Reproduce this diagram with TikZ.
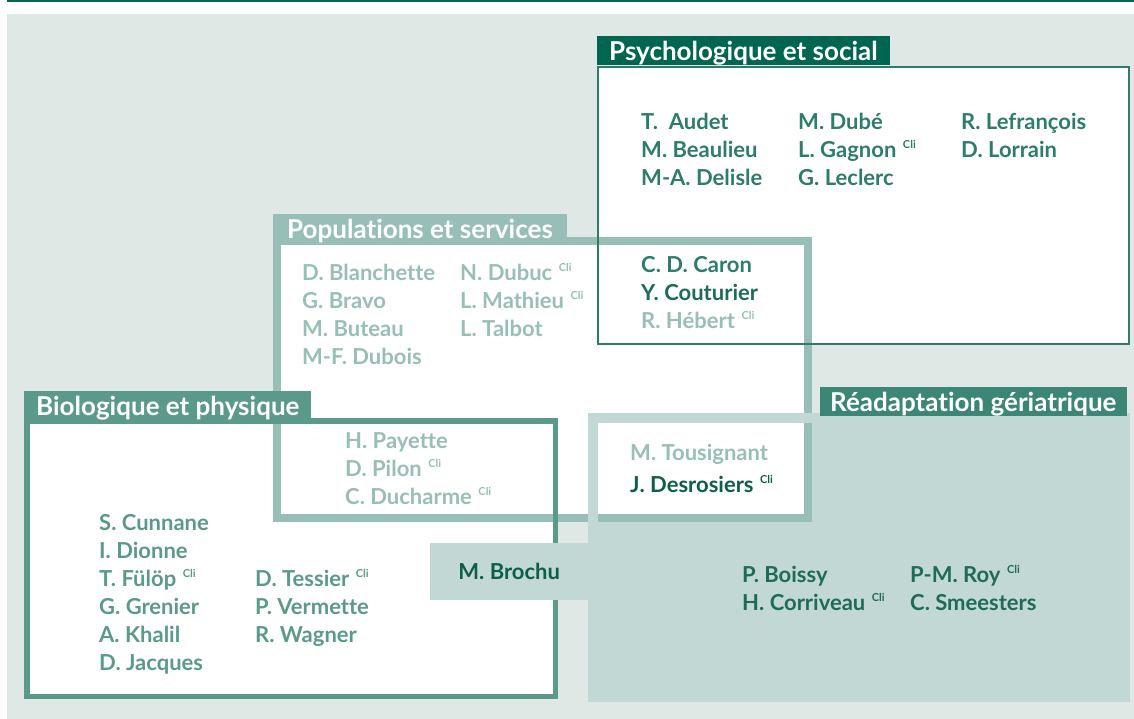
\documentclass[tikz,border=0pt]{standalone}
\usepackage{fontspec}
\setmainfont{Lato}[Ligatures=NoCommon]
\usepackage{xcolor}
\definecolor{BgGrey}{HTML}{DFE8E5}
\definecolor{DeepGreen}{HTML}{00664F}
\definecolor{PsyLine}{HTML}{2E7B6A}
\definecolor{PsyText}{HTML}{2E7D6C}
\definecolor{DarkText}{HTML}{1D6B59}
\definecolor{PopTeal}{HTML}{98BFB7}
\definecolor{BioGreen}{HTML}{5B9A8B}
\definecolor{ReaFill}{HTML}{C2D8D4}
\definecolor{ReaTitle}{HTML}{3C8675}
\definecolor{ReaText}{HTML}{1F6B5A}
\definecolor{InkGreen}{HTML}{0D5F4C}
\usepackage{tikz}
\usetikzlibrary{positioning}
\newcommand{\cli}{\hspace{0.3em}\raisebox{0.4em}{\fontsize{11pt}{11pt}\selectfont Cli}}
\tikzset{
  % title bars
  titlebar/.style={anchor=north west, inner xsep=12pt, inner ysep=0pt, text height=24pt, text depth=5pt, text=white, font=\fontsize{26pt}{26pt}\selectfont\bfseries},
  % member names
  member/.style={anchor=base west, inner sep=0pt, font=\fontsize{22pt}{22pt}\selectfont\bfseries},
  pairbox/.style={anchor=north west, fill=ReaFill, minimum width=158pt, minimum height=57pt, inner xsep=26pt, font=\fontsize{22pt}{22pt}\selectfont\bfseries}
}
\begin{document}
\begin{tikzpicture}[x=1pt, y=-1pt]
  \useasboundingbox (0,0) rectangle (1134,719);
  % background and top rule
  \fill[BgGrey] (7,14) rectangle (1134,719);
  \fill[DeepGreen] (7,0) rectangle (1134,2.5);

  % areas
  \fill[ReaFill] (588,413) rectangle (1130,702);
  \fill[white] (24,418) rectangle (558,699);
  \fill[white] (273,237) rectangle (812,522);
  \fill[white] (597,66) rectangle (1130,345);

  % frames
  \draw[PopTeal, line width=8pt] (277,241) rectangle (808,518);
  \draw[BioGreen, line width=5.5pt] (26.75,420.75) rectangle (555.25,696.25);
  \draw[PsyLine, line width=2pt] (598,67) rectangle (1129,344);
  \draw[ReaFill, line width=10pt] (593,418) rectangle (1125,697);

  % titles
  \node[titlebar, fill=DeepGreen] (psytitle) at (597,36) {Psychologique et social};
  \node[titlebar, fill=PopTeal, inner xsep=14pt] (poptitle) at (273,214) {Populations et services};
  \node[titlebar, fill=BioGreen] (biotitle) at (24,391) {Biologique et physique};
  \node[titlebar, fill=ReaTitle, inner xsep=10pt] (reatitle) at (820,387) {Réadaptation gériatrique};

  % shared member
  \node[pairbox, text=InkGreen] (brochu) at (430,543) {M. Brochu};

  % Psychologique et social
  \foreach \who [count=\i] in {T.~~Audet, M. Beaulieu, M-A. Delisle}
    \node[member, text=PsyText] (psyA\i) at (641,{129.5+28*(\i-1)}) {\who};
  \foreach \who [count=\i] in {M. Dubé, L. Gagnon\cli, G. Leclerc}
    \node[member, text=PsyText] (psyB\i) at (798,{129.5+28*(\i-1)}) {\who};
  \foreach \who [count=\i] in {R. Lefrançois, D. Lorrain}
    \node[member, text=PsyText] (psyC\i) at (961,{129.5+28*(\i-1)}) {\who};
  \foreach \who/\ink [count=\i] in {C. D. Caron/PsyText, Y. Couturier/DarkText, R. Hébert\cli/PopTeal}
    \node[member, text=\ink] (psypop\i) at (641,{272.5+28*(\i-1)}) {\who};

  % Populations et services
  \foreach \who [count=\i] in {D. Blanchette, G. Bravo, M. Buteau, M-F. Dubois}
    \node[member, text=PopTeal] (popA\i) at (302,{280.5+28*(\i-1)}) {\who};
  \foreach \who [count=\i] in {N. Dubuc\cli, L. Mathieu\cli, L. Talbot}
    \node[member, text=PopTeal] (popB\i) at (460,{280.5+28*(\i-1)}) {\who};
  \foreach \who [count=\i] in {H. Payette, D. Pilon\cli, C. Ducharme\cli}
    \node[member, text=PopTeal] (popbio\i) at (345,{448.5+28*(\i-1)}) {\who};
  \node[member, text=PopTeal] (poprea1) at (630,460.5) {M. Tousignant};
  \node[member, text=InkGreen] (poprea2) at (630,492.5) {J. Desrosiers\cli};

  % Biologique et physique
  \foreach \who [count=\i] in {S. Cunnane, I. Dionne, T. Fülöp\cli, G. Grenier, A. Khalil, D. Jacques}
    \node[member, text=BioGreen] (bioA\i) at (99,{530.5+28*(\i-1)}) {\who};
  \foreach \who [count=\i] in {D. Tessier\cli, P. Vermette, R. Wagner}
    \node[member, text=BioGreen] (bioB\i) at (255,{586.5+28*(\i-1)}) {\who};

  % Readaptation geriatrique
  \foreach \who [count=\i] in {P. Boissy, H. Corriveau\cli}
    \node[member, text=ReaText] (reaA\i) at (742,{582.5+28*(\i-1)}) {\who};
  \foreach \who [count=\i] in {P-M. Roy\cli, C. Smeesters}
    \node[member, text=ReaText] (reaB\i) at (910,{582.5+28*(\i-1)}) {\who};
\end{tikzpicture}
\end{document}
